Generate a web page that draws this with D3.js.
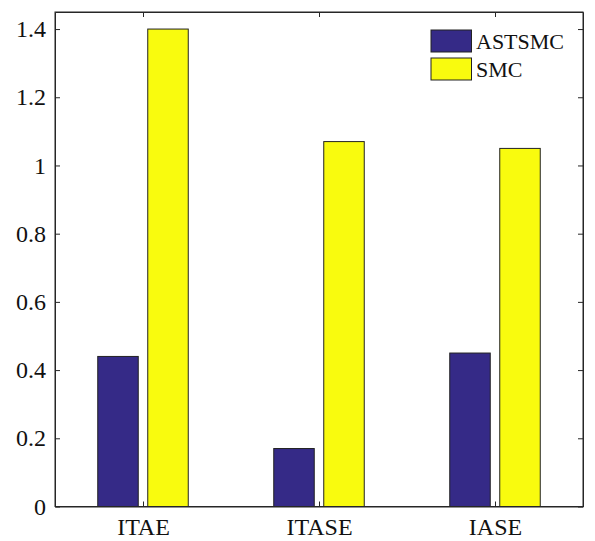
<!DOCTYPE html>
<html><head><meta charset="utf-8">
<script src="https://cdn.jsdelivr.net/npm/d3@7"></script>
<style>body{margin:0;background:#fff}svg{display:block}text{font-family:"Liberation Serif","Times New Roman",serif}</style>
</head><body><svg id="c" width="595" height="541"></svg>
<script>
const categories = ["ITAE","ITASE","IASE"];
const seriesNames = ["ASTSMC","SMC"];
const astsmc = [0.44,0.17,0.45];
const smc = [1.40,1.07,1.05];
const yTicks = [0,0.2,0.4,0.6,0.8,1,1.2,1.4];
const colors = ["#352a87","#f9fb0e"];

const svg = d3.select("#c");
const L=55, R=583, T=12, B=506.5;
const x = d3.scaleLinear().domain([0.5,3.5]).range([L,R]);
const y = d3.scaleLinear().domain([0,1.45]).range([B,T]);
const series=[astsmc,smc];
const offs=[-25,25], bw=40.5;

series.forEach((s,si)=>{
  svg.append("g").selectAll("rect").data(s).join("rect")
    .attr("x",(d,i)=>x(i+1)+offs[si]-bw/2)
    .attr("y",d=>y(d)).attr("width",bw).attr("height",d=>B-y(d))
    .attr("fill",colors[si]).attr("stroke","#222").attr("stroke-width",1);
});

const fmt=d=>d===0?"0":d===1?"1":String(d);
const tickCol="#262626";
const FF="'Liberation Serif','Times New Roman',serif";
const gl=svg.append("g").attr("transform",`translate(${L},0)`)
  .call(d3.axisLeft(y).tickValues(yTicks).tickFormat(fmt).tickSizeInner(-5).tickSizeOuter(0).tickPadding(9));
const gr=svg.append("g").attr("transform",`translate(${R},0)`)
  .call(d3.axisRight(y).tickValues(yTicks).tickFormat("").tickSizeInner(-5).tickSizeOuter(0));
const gb=svg.append("g").attr("transform",`translate(0,${B})`)
  .call(d3.axisBottom(x).tickValues([1,2,3]).tickFormat((d)=>categories[d-1]).tickSizeInner(-5).tickSizeOuter(0).tickPadding(11));
const gt=svg.append("g").attr("transform",`translate(0,${T})`)
  .call(d3.axisTop(x).tickValues([1,2,3]).tickFormat("").tickSizeInner(-5).tickSizeOuter(0));
[gl,gr,gb,gt].forEach(g=>{
  g.attr("font-family",FF).attr("font-size",24);
  g.select(".domain").attr("stroke",tickCol);
  g.selectAll(".tick line").attr("stroke",tickCol);
  g.selectAll("text").attr("fill","#111").style("font-size","24px").style("font-family",FF);
});
svg.append("rect").attr("x",L).attr("y",T).attr("width",R-L).attr("height",B-T)
  .attr("fill","none").attr("stroke",tickCol).attr("stroke-width",1);

const lg=svg.append("g");
seriesNames.forEach((n,i)=>{
  const yy=30+i*28;
  lg.append("rect").attr("x",431).attr("y",yy).attr("width",40.5).attr("height",22)
    .attr("fill",colors[i]).attr("stroke","#222");
  lg.append("text").attr("x",476).attr("y",yy+19).text(n)
    .style("font-size","22px").style("font-family",FF).attr("fill","#111");
});
</script></body></html>
